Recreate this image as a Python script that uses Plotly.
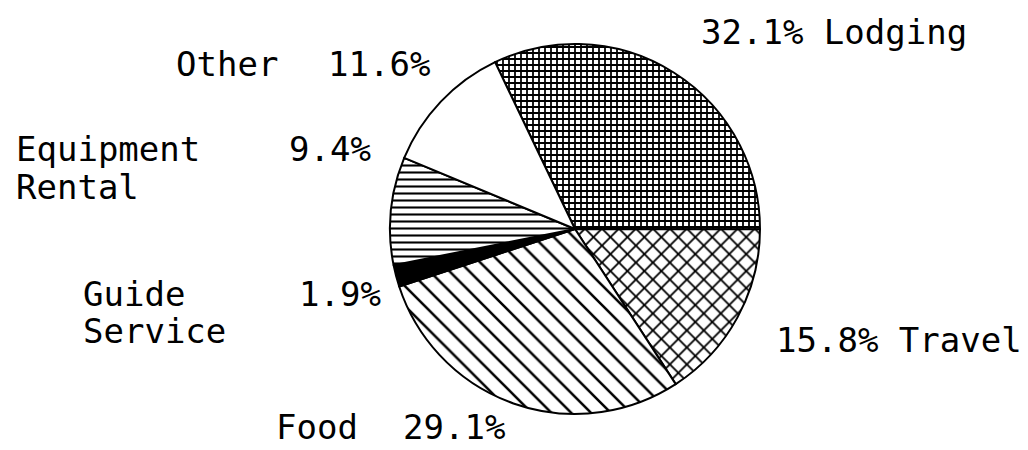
import plotly.graph_objects as go

# Data (clockwise from the top-left boundary)
categories = ["Lodging", "Travel", "Food", "Guide Service", "Equipment Rental", "Other"]
percents = [32.1, 15.8, 29.1, 1.9, 9.4, 11.6]

# Label texts
pct_labels = ["32.1%", "15.8%", "29.1%", "1.9%", "9.4%", "11.6%"]

W, H = 1028, 450

fill_colors = ["white", "white", "white", "black", "white", "white"]
shapes = ["+", "x", "\\", "", "-", ""]
sizes = [6, 12, 14, 8, 7, 8]
solid = [0.5, 0.28, 0.18, 0.3, 0.3, 0.3]

fig = go.Figure()
fig.add_trace(go.Pie(
    labels=categories,
    values=percents,
    sort=False,
    direction="clockwise",
    rotation=-25.6,
    textinfo="none",
    hoverinfo="skip",
    showlegend=False,
    domain=dict(x=[0.3716, 0.7315], y=[0.0978, 0.92]),
    marker=dict(
        colors=fill_colors,
        line=dict(color="black", width=2),
        pattern=dict(
            shape=shapes,
            fgcolor="black",
            fgopacity=1,
            bgcolor=fill_colors,
            size=sizes,
            solidity=solid,
            fillmode="overlay",
        ),
    ),
))

FONT = dict(family="DejaVu Sans Mono", size=34, color="black")

def px(x, y):
    # compensate for annotation padding / glyph placement
    return (x - 9) / W, 1 - (y - 8) / H

# (text, x_px, y_px) — annotation positions for labels
label_items = [
    (pct_labels[0] + " " + categories[0], 700, 32),
    (pct_labels[1] + " " + categories[1], 775, 340),
    ("Food", 275, 427),
    (pct_labels[2], 402, 427),
    ("Guide", 82, 294),
    ("Service", 82, 331),
    (pct_labels[3], 298, 294),
    ("Equipment", 15, 149),
    ("Rental", 15, 187),
    (pct_labels[4], 288, 149),
    ("Other", 175, 64),
    (pct_labels[5], 327, 64),
]

annotations = []
for text, x, y in label_items:
    ax, ay = px(x, y)
    annotations.append(dict(
        text=text, x=ax, y=ay, xref="paper", yref="paper",
        xanchor="left", yanchor="middle", showarrow=False, font=FONT,
    ))

fig.update_layout(
    width=W, height=H,
    margin=dict(l=0, r=0, t=0, b=0),
    paper_bgcolor="white",
    plot_bgcolor="white",
    annotations=annotations,
)

fig.write_html("out.html")
